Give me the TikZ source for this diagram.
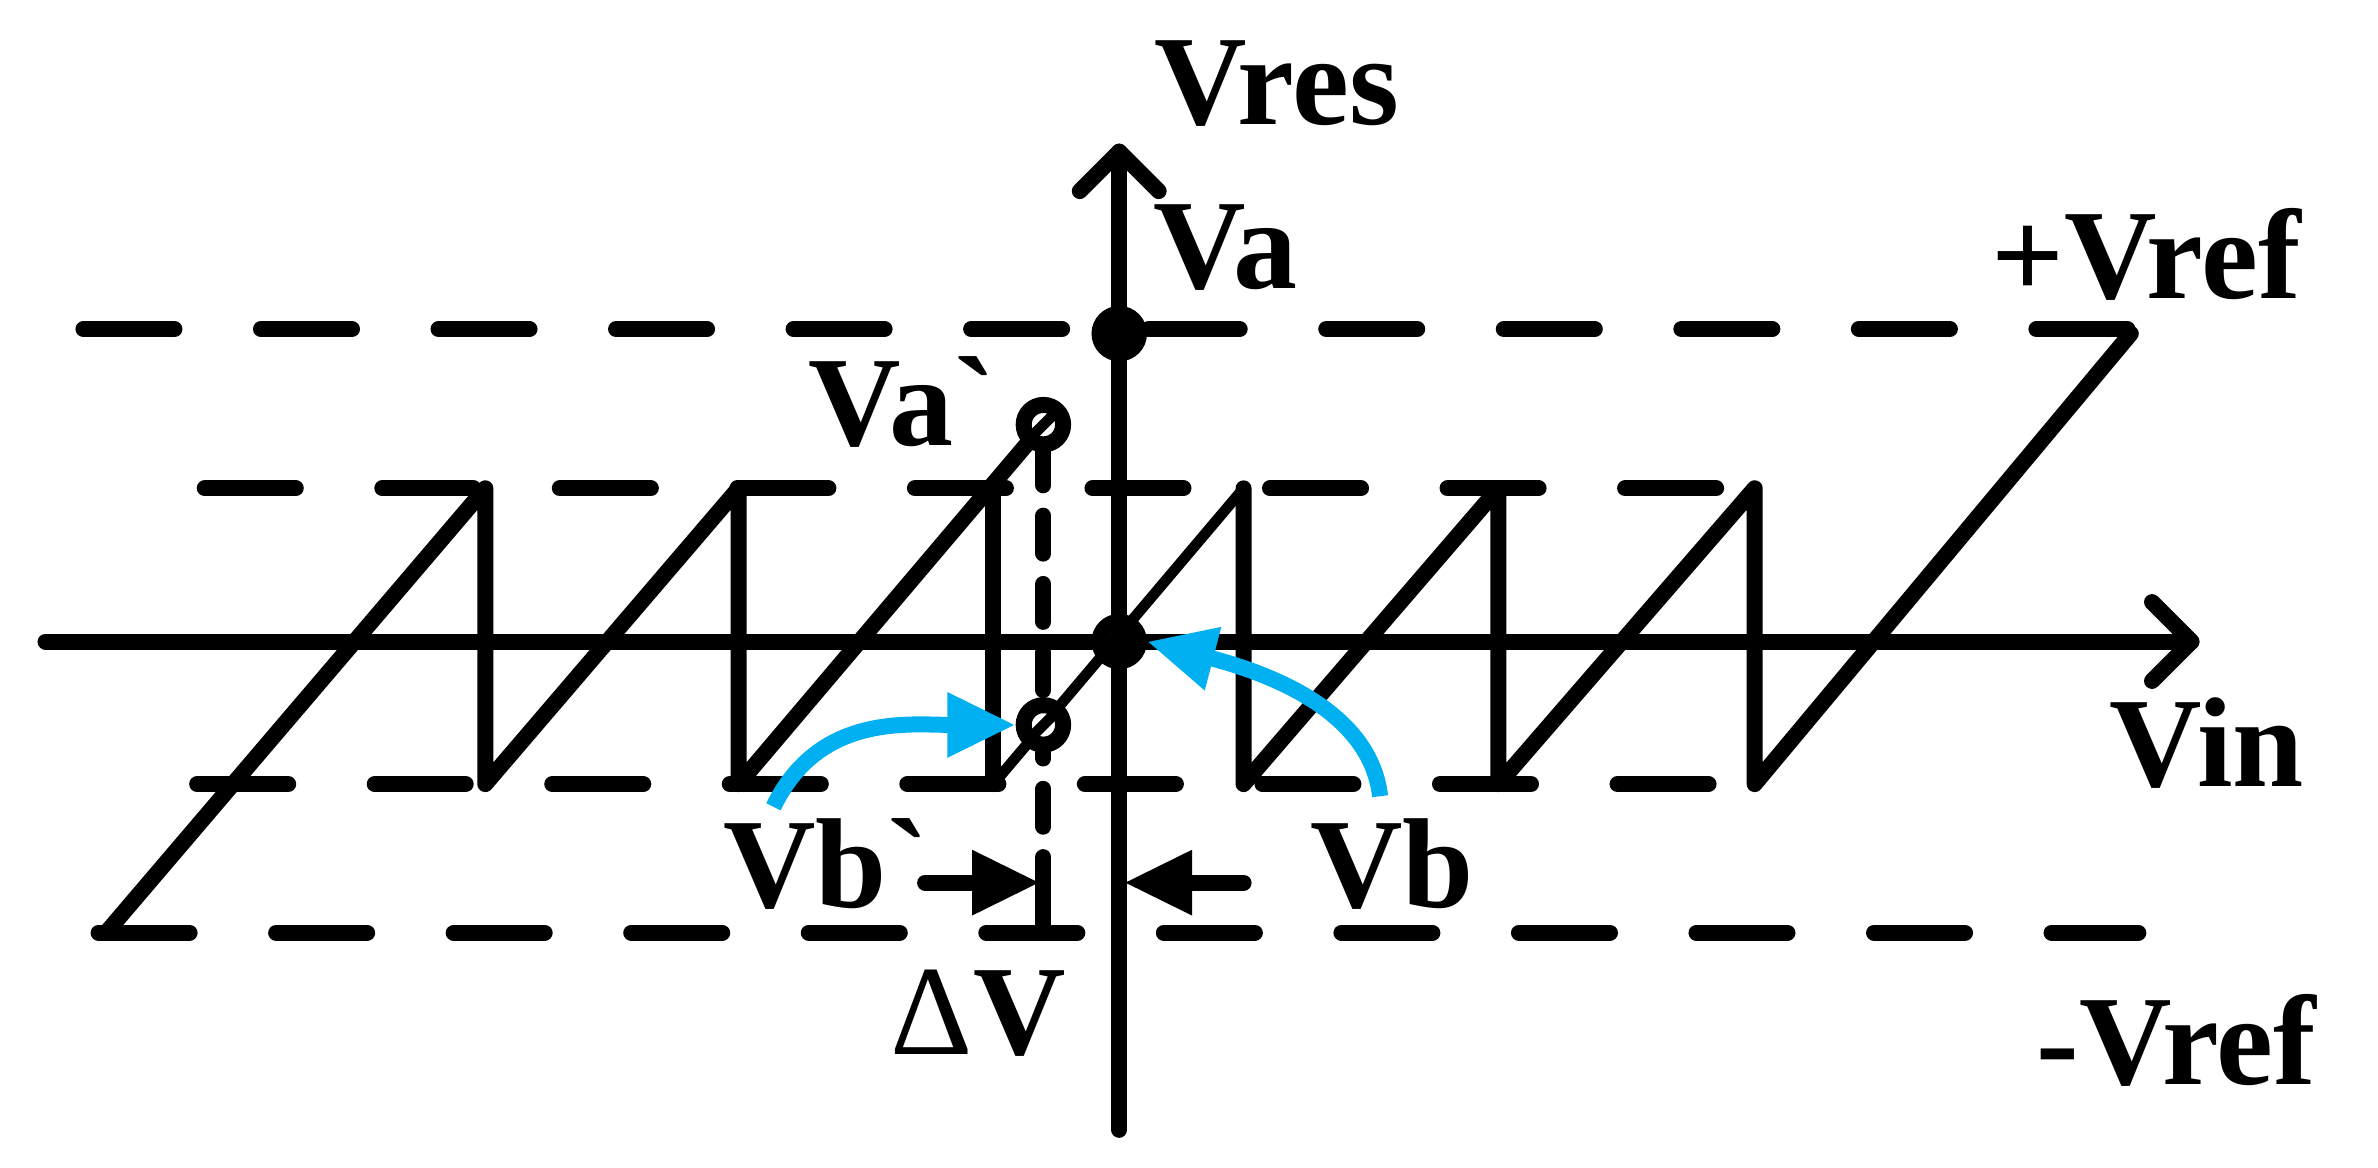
\documentclass[tikz,border=0pt]{standalone}
\usepackage{fontspec}
\newfontfamily\lab[Ligatures=ResetAll]{Liberation Serif}
\usetikzlibrary{arrows.meta}
\definecolor{cyanb}{RGB}{0,176,240}
\begin{document}
\begin{tikzpicture}[x=0.01cm,y=-0.01cm,
  thickl/.style={line width=3pt,line cap=round,line join=round},
  dsh/.style={thickl,dash pattern=on 0.6cm off 0.57cm},
  lbl/.style={font=\lab\fontsize{24}{28}\selectfont\bfseries,inner sep=0pt},
  ring/.style={circle,draw,line width=3pt,minimum size=0.26cm,inner sep=0pt},
  blue/.style={cyanb,line width=3pt,-{Triangle[length=0.45cm,width=0.4cm]}},
  darr/.style={thickl,-{Triangle[length=0.45cm,width=0.4cm]}}]
\useasboundingbox (0,0) rectangle (1568,770);
% axes
\coordinate (yb) at (738,745); \coordinate (yt) at (738,100);
\coordinate (xl) at (30,423); \coordinate (xr) at (1445,423);
\draw[thickl] (yb) -- (yt);
\draw[thickl] (712,126) -- (yt) -- (764,126);
\draw[thickl] (xl) -- (xr);
\draw[thickl] (1419,397) -- (xr) -- (1419,449);
% dashed lines
\draw[dsh] (55,217) -- (1410,217);
\draw[dsh] (135,322) -- (1180,322);
\draw[dsh] (130,517) -- (1180,517);
\draw[dsh] (65,615) -- (1410,615);
% sawtooth
\draw[thickl] (70,615) -- (320,322) -- (320,517) -- (487,322) -- (487,517) -- (688,280);
\draw[thickl] (655,322) -- (655,517);
\draw[line width=2pt] (655,517) -- (820,322);
\draw[thickl] (820,322) -- (820,517) -- (988,322) -- (988,517) -- (1157,322) -- (1157,517) -- (1405,220);
% dashed vertical
\draw[thickl,dash pattern=on 0.25cm off 0.2cm] (688,295) -- (688,600);
\draw[thickl] (688,590) -- (688,612);
% points
\node[ring,fill=black] (va) at (738,220) {};
\node[ring,fill=white] (vap) at (688,280) {};
\draw[line width=2pt] (679,289) -- (697,271);
\node[ring] (o) at (738,423) {};
\node[ring,fill=white] (vbp) at (688,478) {};
\draw[line width=2pt] (679,487) -- (697,469);
% blue arrows
\coordinate (b1) at (510,532); \coordinate (b2) at (910,525);
\draw[blue] (b1) .. controls (540,470) and (600,478) .. (vbp.west);
\draw[blue] (b2) .. controls (905,480) and (860,450) .. (o.east);
% delta V arrows
\coordinate (d1) at (610,582); \coordinate (d2) at (820,582);
\draw[darr] (d1) -- (686,582);
\draw[darr] (d2) -- (741,582);
% labels
\node[lbl] at (842,55) {Vres};
\node[lbl] at (808,163) {Va};
\node[lbl] at (1415,168) {+Vref};
\node[lbl] at (595,265) {Va`};
\node[lbl] at (1455,490) {Vin};
\node[lbl] at (545,570) {Vb`};
\node[lbl] at (918,570) {Vb};
\node[lbl] at (645,668) {\mdseries Δ\bfseries V};
\node[lbl] at (1435,686) {-Vref};
\end{tikzpicture}
\end{document}
